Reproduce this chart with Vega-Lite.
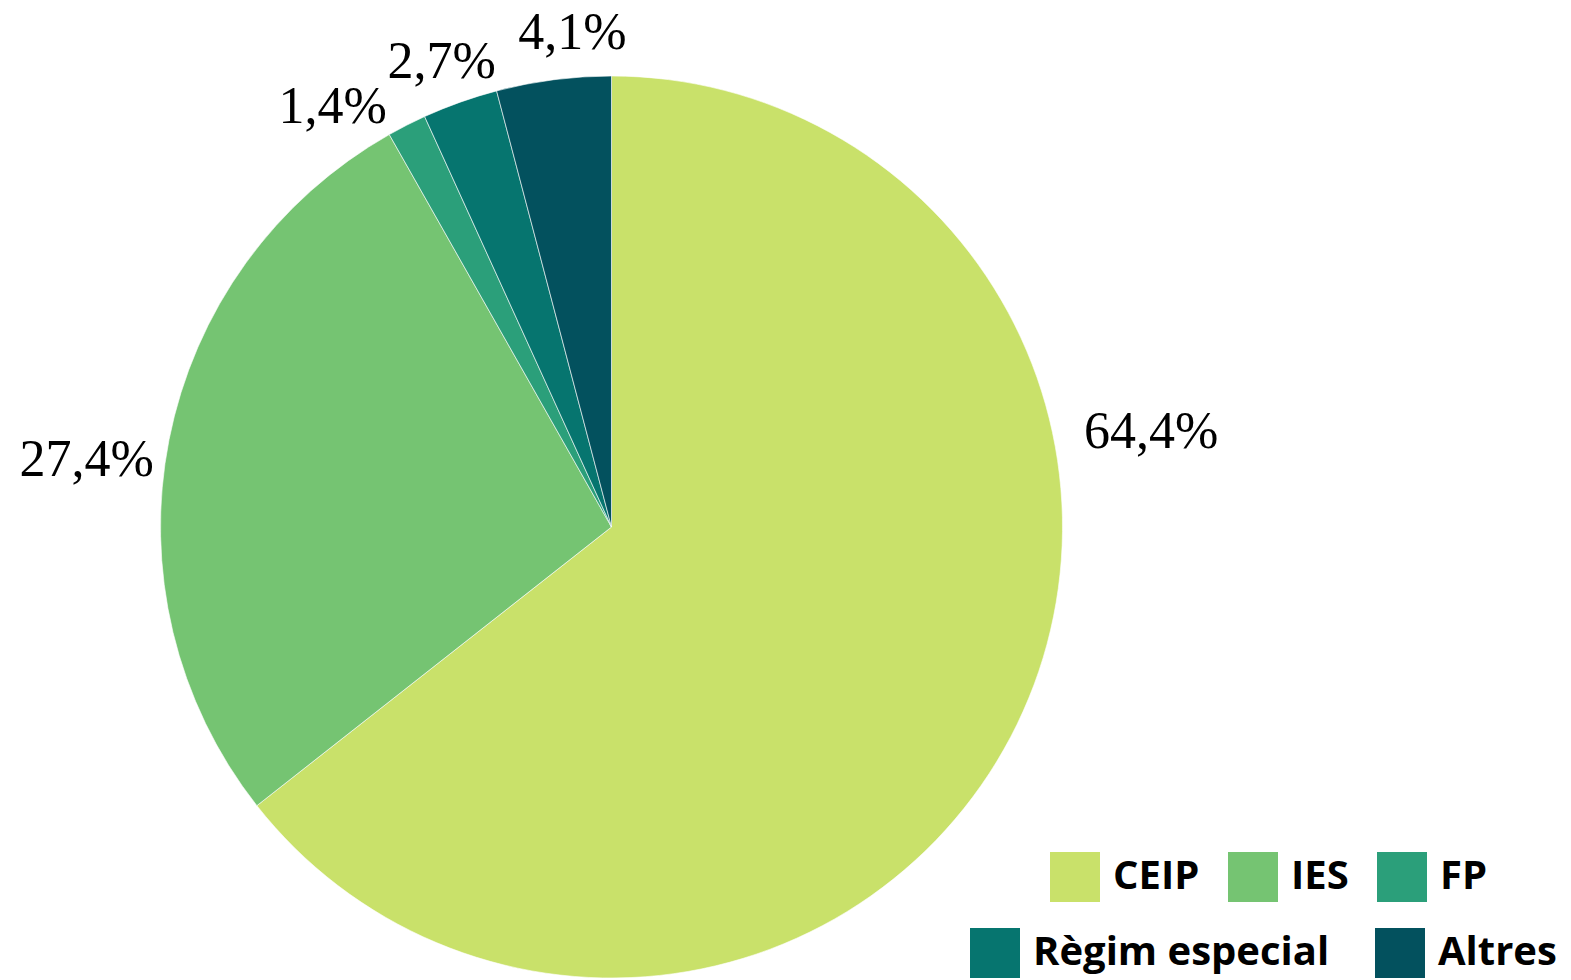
{
  "$schema": "https://vega.github.io/schema/vega-lite/v6.json",
  "autosize": {"type": "none"},
  "width": 1223,
  "height": 902,
  "padding": {"left": 0, "top": 76, "right": 348, "bottom": 2},
  "background": "white",
  "config": {"view": {"stroke": null}},
  "data": {
    "values": [
      {"tipo": "CEIP", "valor": 64.4, "label": "64,4%", "orden": 1},
      {"tipo": "IES", "valor": 27.4, "label": "27,4%", "orden": 2},
      {"tipo": "FP", "valor": 1.4, "label": "1,4%", "orden": 3},
      {"tipo": "Règim especial", "valor": 2.7, "label": "2,7%", "orden": 4},
      {"tipo": "Altres", "valor": 4.1, "label": "4,1%", "orden": 5}
    ]
  },
  "layer": [
    {
      "mark": {"type": "arc", "stroke": "white", "strokeWidth": 0.6},
      "encoding": {
        "theta": {"field": "valor", "type": "quantitative", "stack": true},
        "order": {"field": "orden", "type": "quantitative"},
        "color": {
          "field": "tipo", "type": "nominal",
          "scale": {"domain": ["CEIP", "IES", "FP", "Règim especial", "Altres"], "range": ["#c9e16a", "#75c472", "#2b9f7a", "#06756f", "#03515e"]},
          "legend": {
            "values": ["CEIP", "IES", "FP"], "title": null, "orient": "none", "direction": "horizontal",
            "legendX": 1050, "legendY": 776, "padding": 0, "columnPadding": 28,
            "symbolType": "square", "symbolSize": 2500, "symbolStrokeWidth": 0, "symbolOpacity": 1,
            "labelFont": "Open Sans", "labelFontWeight": "bold", "labelFontSize": 40, "labelColor": "black", "labelOffset": 13, "labelLimit": 600
          }
        }
      }
    },
    {
      "mark": {"type": "arc", "opacity": 0},
      "encoding": {
        "theta": {"field": "valor", "type": "quantitative", "stack": true},
        "order": {"field": "orden", "type": "quantitative"},
        "color": {
          "field": "tipo", "type": "nominal",
          "scale": {"domain": ["CEIP", "IES", "FP", "Règim especial", "Altres"], "range": ["#c9e16a", "#75c472", "#2b9f7a", "#06756f", "#03515e"]},
          "legend": {
            "values": ["Règim especial", "Altres"], "title": null, "orient": "none", "direction": "horizontal",
            "legendX": 970, "legendY": 852, "padding": 0, "columnPadding": 45,
            "symbolType": "square", "symbolSize": 2500, "symbolStrokeWidth": 0, "symbolOpacity": 1,
            "labelFont": "Open Sans", "labelFontWeight": "bold", "labelFontSize": 40, "labelColor": "black", "labelOffset": 13, "labelLimit": 600
          }
        }
      }
    },
    {
      "mark": {"type": "text", "radius": 548, "thetaOffset": -0.627, "font": "Liberation Serif", "fontSize": 52, "color": "black", "align": "center", "baseline": "middle"},
      "encoding": {
        "theta": {"field": "valor", "type": "quantitative", "stack": true},
        "order": {"field": "orden", "type": "quantitative"},
        "text": {"condition": {"test": "datum.tipo === 'CEIP'", "field": "label"}, "value": ""}
      }
    },
    {
      "mark": {"type": "text", "radius": 529, "thetaOffset": -0.068, "font": "Liberation Serif", "fontSize": 52, "color": "black", "align": "center", "baseline": "middle"},
      "encoding": {
        "theta": {"field": "valor", "type": "quantitative", "stack": true},
        "order": {"field": "orden", "type": "quantitative"},
        "text": {"condition": {"test": "datum.tipo === 'IES'", "field": "label"}, "value": ""}
      }
    },
    {
      "mark": {"type": "text", "radius": 504, "thetaOffset": -0.115, "font": "Liberation Serif", "fontSize": 52, "color": "black", "align": "center", "baseline": "middle"},
      "encoding": {
        "theta": {"field": "valor", "type": "quantitative", "stack": true},
        "order": {"field": "orden", "type": "quantitative"},
        "text": {"condition": {"test": "datum.tipo === 'FP'", "field": "label"}, "value": ""}
      }
    },
    {
      "mark": {"type": "text", "radius": 495, "thetaOffset": -0.008, "font": "Liberation Serif", "fontSize": 52, "color": "black", "align": "center", "baseline": "middle"},
      "encoding": {
        "theta": {"field": "valor", "type": "quantitative", "stack": true},
        "order": {"field": "orden", "type": "quantitative"},
        "text": {"condition": {"test": "datum.tipo === 'Règim especial'", "field": "label"}, "value": ""}
      }
    },
    {
      "mark": {"type": "text", "radius": 496, "thetaOffset": 0.05, "font": "Liberation Serif", "fontSize": 52, "color": "black", "align": "center", "baseline": "middle"},
      "encoding": {
        "theta": {"field": "valor", "type": "quantitative", "stack": true},
        "order": {"field": "orden", "type": "quantitative"},
        "text": {"condition": {"test": "datum.tipo === 'Altres'", "field": "label"}, "value": ""}
      }
    }
  ],
  "resolve": {"scale": {"color": "independent"}, "legend": {"color": "independent"}}
}
